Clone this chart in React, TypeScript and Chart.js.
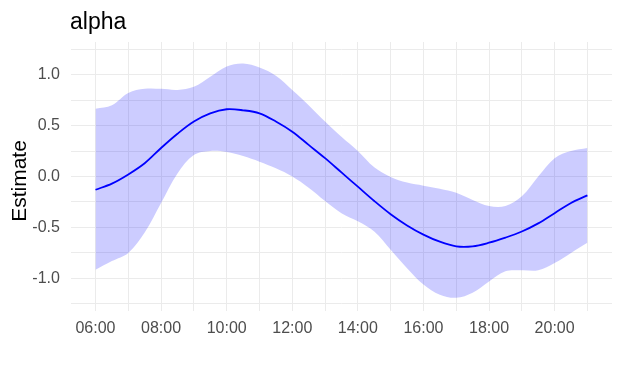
import React, { useEffect, useRef } from "react";
import { Chart, registerables } from "chart.js";

Chart.register(...registerables);

const hours = [6, 6.5, 7, 7.5, 8, 8.5, 9, 9.5, 10, 10.5, 11, 11.5, 12, 12.5, 13, 13.5, 14, 14.5, 15, 15.5, 16, 16.5, 17, 17.5, 18, 18.5, 19, 19.5, 20, 20.5, 21];
const estimate = [-0.13, -0.07, 0.02, 0.13, 0.28, 0.42, 0.54, 0.62, 0.66, 0.65, 0.62, 0.54, 0.44, 0.31, 0.18, 0.04, -0.10, -0.24, -0.37, -0.48, -0.57, -0.64, -0.685, -0.685, -0.65, -0.60, -0.54, -0.46, -0.36, -0.26, -0.185];
const upper = [0.665, 0.70, 0.82, 0.86, 0.86, 0.85, 0.88, 0.98, 1.08, 1.11, 1.07, 0.99, 0.85, 0.70, 0.54, 0.39, 0.25, 0.09, -0.005, -0.06, -0.09, -0.12, -0.16, -0.23, -0.29, -0.29, -0.195, 0.0, 0.18, 0.25, 0.28];
const lower = [-0.915, -0.83, -0.75, -0.55, -0.26, 0.03, 0.21, 0.25, 0.24, 0.20, 0.145, 0.08, 0.0, -0.11, -0.24, -0.36, -0.44, -0.54, -0.72, -0.90, -1.06, -1.16, -1.19, -1.14, -1.03, -0.93, -0.92, -0.92, -0.85, -0.75, -0.65];

const xTickHours = [6, 7, 8, 9, 10, 11, 12, 13, 14, 15, 16, 17, 18, 19, 20, 21];
const xLabelHours = [6, 8, 10, 12, 14, 16, 18, 20];
const yTickValues = [-1.25, -1, -0.75, -0.5, -0.25, 0, 0.25, 0.5, 0.75, 1, 1.25];
const yLabelValues = [-1, -0.5, 0, 0.5, 1];

const titleText = "alpha";
const yTitleText = "Estimate";

const FONT = '"Liberation Sans", Arial, sans-serif';

export default function App() {
  const ref = useRef<HTMLCanvasElement | null>(null);

  useEffect(() => {
    if (!ref.current) return;
    const toPts = (ys: number[]) => hours.map((h, i) => ({ x: h, y: ys[i] }));

    const textPlugin = {
      id: "texts",
      afterDraw(chart: any) {
        const ctx = chart.ctx;
        ctx.save();
        ctx.fillStyle = "#000000";
        ctx.font = `23px ${FONT}`;
        ctx.textAlign = "left";
        ctx.textBaseline = "alphabetic";
        ctx.fillText(titleText, 70, 28.5);
        ctx.translate(25.5, 181);
        ctx.rotate(-Math.PI / 2);
        ctx.font = `21px ${FONT}`;
        ctx.textAlign = "center";
        ctx.fillText(yTitleText, 0, 0);
        ctx.restore();
      },
    };

    const common = {
      pointRadius: 0,
      cubicInterpolationMode: "default",
      tension: 0.35,
    };

    const chart = new Chart(ref.current, {
      type: "line",
      data: {
        datasets: [
          {
            ...common,
            data: toPts(lower),
            borderWidth: 0,
            fill: false,
            borderColor: "rgba(0,0,0,0)",
          },
          {
            ...common,
            data: toPts(upper),
            borderWidth: 0,
            fill: "-1",
            borderColor: "rgba(0,0,0,0)",
            backgroundColor: "rgba(0,0,255,0.2)",
          },
          {
            ...common,
            data: toPts(estimate),
            borderWidth: 1.8,
            fill: false,
            borderColor: "#0000FF",
          },
        ],
      },
      options: {
        animation: false,
        responsive: false,
        devicePixelRatio: 1,
        layout: { padding: { top: 42, right: 10, left: 0, bottom: 0 } },
        plugins: {
          legend: { display: false },
          tooltip: { enabled: false },
          title: { display: false },
        },
        scales: {
          x: {
            type: "linear",
            min: 5.25,
            max: 21.75,
            afterBuildTicks: (scale: any) => {
              scale.ticks = xTickHours.map((v) => ({ value: v }));
            },
            afterFit: (scale: any) => {
              scale.height = 61;
              scale.paddingLeft = 0;
              scale.paddingRight = 0;
            },
            border: { display: false },
            grid: { color: "#EBEBEB", lineWidth: 1, drawTicks: false },
            ticks: {
              autoSkip: false,
              maxRotation: 0,
              padding: 8,
              color: "#4D4D4D",
              font: { family: FONT, size: 16 },
              callback: (v: any) => {
                const n = Number(v);
                if (!xLabelHours.includes(n)) return "";
                return String(n).padStart(2, "0") + ":00";
              },
            },
          },
          y: {
            type: "linear",
            min: -1.32,
            max: 1.32,
            afterBuildTicks: (scale: any) => {
              scale.ticks = yTickValues.map((v) => ({ value: v }));
            },
            afterFit: (scale: any) => {
              scale.width = 70.9;
            },
            border: { display: false },
            grid: { color: "#EBEBEB", lineWidth: 1, drawTicks: false },
            ticks: {
              autoSkip: false,
              padding: 11,
              color: "#4D4D4D",
              font: { family: FONT, size: 16 },
              callback: (v: any) => {
                const n = Number(v);
                if (!yLabelValues.includes(n)) return "";
                return n.toFixed(1);
              },
            },
          },
        },
      },
      plugins: [textPlugin],
    } as any);

    return () => chart.destroy();
  }, []);

  return (
    <div style={{ position: "fixed", left: 0, top: 0, width: 622, height: 372, background: "#ffffff" }}>
      <canvas ref={ref} width={622} height={372} style={{ display: "block" }} />
    </div>
  );
}
